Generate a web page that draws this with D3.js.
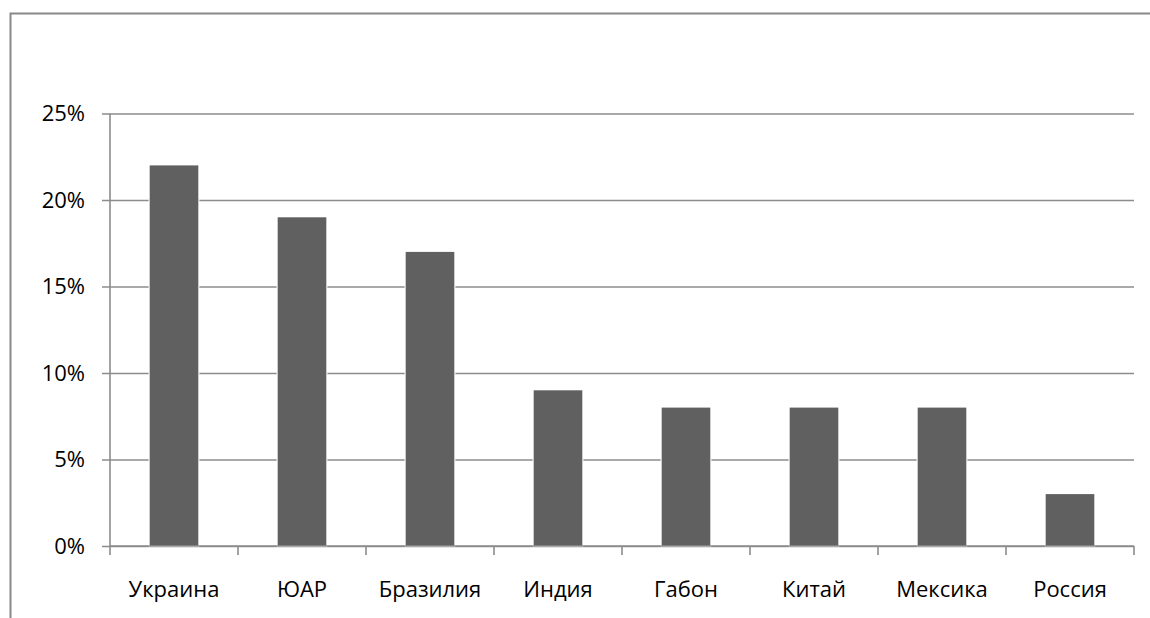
<!DOCTYPE html>
<html>
<head>
<meta charset="utf-8">
<script src="https://cdn.jsdelivr.net/npm/d3@7"></script>
<style>
  html, body { margin: 0; padding: 0; background: #fff; overflow: hidden; }
  svg { display: block; }
  text { font-family: "Open Sans", sans-serif; fill: #000; }
</style>
</head>
<body>
<svg id="chart" width="1150" height="618"></svg>
<script>
const categories = ["Украина", "ЮАР", "Бразилия", "Индия", "Габон", "Китай", "Мексика", "Россия"];
const shares = [22, 19, 17, 9, 8, 8, 8, 3];
const yTicks = [0, 5, 10, 15, 20, 25];

const svg = d3.select("#chart");
const plotLeft = 110, plotRight = 1134, plotTop = 113.5, plotBottom = 546;

// outer chart frame (only its top and left edges fall inside the page)
svg.append("path")
  .attr("d", "M10.5,618 L10.5,13.5 L1150,13.5")
  .attr("fill", "none").attr("stroke", "#888").attr("stroke-width", 2);

const x = d3.scaleBand().domain(categories).range([plotLeft, plotRight]).paddingInner(0.62).paddingOuter(0.31);
const y = d3.scaleLinear().domain([0, 25]).range([plotBottom, plotTop]);

// horizontal gridlines with short ticks left of the axis
const grid = svg.append("g")
  .attr("transform", `translate(${plotLeft},0)`)
  .call(d3.axisLeft(y).tickValues(yTicks).tickSize(-(plotRight - plotLeft)).tickFormat(""));
grid.select(".domain").remove();
grid.selectAll("line").attr("stroke", "#8c8c8c").attr("stroke-width", 1.6).attr("x1", -8);

// y labels
svg.append("g").selectAll("text").data(yTicks).join("text")
  .attr("x", 85).attr("y", d => y(d))
  .attr("dy", "0.36em")
  .attr("text-anchor", "end")
  .style("font-size", "22px")
  .text(d => d + "%");

// bars
svg.append("g").selectAll("rect").data(shares).join("rect")
  .attr("x", (d, i) => x(categories[i]))
  .attr("y", d => y(d))
  .attr("width", x.bandwidth())
  .attr("height", d => plotBottom - y(d))
  .attr("fill", "#606060")
  .attr("stroke", "#fff").attr("stroke-width", 2.2)
  .attr("paint-order", "stroke");

// y axis line
svg.append("line")
  .attr("x1", plotLeft).attr("x2", plotLeft).attr("y1", plotTop).attr("y2", plotBottom + 1)
  .attr("stroke", "#8c8c8c").attr("stroke-width", 1.6);

// x axis baseline and category boundary ticks
const xAxis = svg.append("g").attr("transform", `translate(0,${plotBottom})`);
xAxis.append("line").attr("x1", plotLeft).attr("x2", plotRight)
  .attr("stroke", "#8c8c8c").attr("stroke-width", 1.6);
const step = (plotRight - plotLeft) / categories.length;
xAxis.selectAll("line.tick").data(d3.range(categories.length + 1)).join("line")
  .attr("class", "tick")
  .attr("x1", i => plotLeft + i * step).attr("x2", i => plotLeft + i * step)
  .attr("y1", 0).attr("y2", 9)
  .attr("stroke", "#8c8c8c").attr("stroke-width", 1.6);

// category labels
svg.append("g").selectAll("text").data(categories).join("text")
  .attr("x", d => x(d) + x.bandwidth() / 2)
  .attr("y", 597)
  .attr("text-anchor", "middle")
  .style("font-size", "22px")
  .text(d => d);
</script>
</body>
</html>
